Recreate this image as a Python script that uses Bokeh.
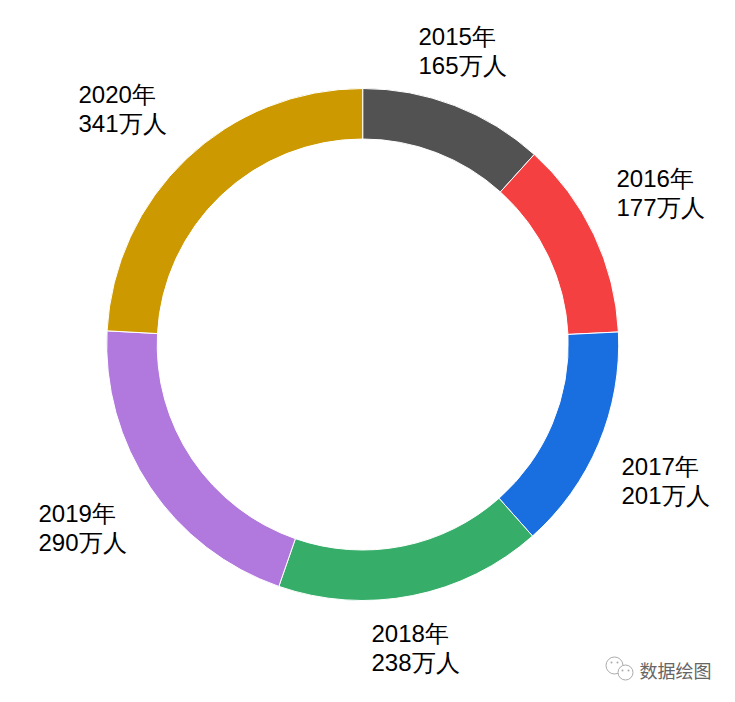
import math
from bokeh.plotting import figure
from bokeh.models import ColumnDataSource, Range1d
from bokeh.core.properties import value
from bokeh.embed import file_html
from bokeh.resources import INLINE

years = ["2015年", "2016年", "2017年", "2018年", "2019年", "2020年"]
people = [165, 177, 201, 238, 290, 341]
colors = ["#525252", "#F44040", "#1A6FE0", "#36AE6A", "#B178DE", "#CC9900"]

W, H = 719, 686
# layout: left edge / first line centre of every label, in page pixels
label_left = [418, 616, 621, 371, 38, 78]
label_top = [36, 178, 466, 633, 513, 94]

p = figure(width=W, height=H, output_backend="svg", toolbar_location=None,
           x_range=Range1d(0, W), y_range=Range1d(H, 0))
p.axis.visible = False
p.grid.visible = False
p.outline_line_color = None
p.min_border = 0
p.min_border_left = p.min_border_right = p.min_border_top = p.min_border_bottom = 0
p.background_fill_color = "white"

total = sum(people)
start, end = [], []
a = math.pi / 2
for v in people:
    start.append(a)
    a -= 2 * math.pi * v / total
    end.append(a)

src = ColumnDataSource(dict(s=start, e=end, c=colors))
p.annular_wedge(x=362.2, y=344, inner_radius=205.5, outer_radius=256,
                start_angle="s", end_angle="e", direction="clock",
                fill_color="c", line_color="white", line_width=1, source=src)

t1 = ColumnDataSource(dict(x=label_left, y=label_top, t=years))
t2 = ColumnDataSource(dict(x=label_left, y=[v + 29 for v in label_top],
                           t=[f"{v}万人" for v in people]))
for s in (t1, t2):
    p.text(x="x", y="y", text="t", source=s, text_font=value("Liberation Sans"),
           text_font_size="18pt", text_color="black", text_align="left",
           text_baseline="middle")

# watermark
p.text(x=[639], y=[669], text=["数据绘图"], text_font=value("Noto Sans CJK SC"),
       text_font_size="13.5pt", text_color="#666666", text_align="left",
       text_baseline="middle")
p.scatter(x=[614], y=[665], size=17, marker="circle", fill_color="white",
          line_color="#aaaaaa", line_width=1)
p.scatter(x=[625], y=[672], size=15, marker="circle", fill_color="white",
          line_color="#aaaaaa", line_width=1)
p.scatter(x=[611, 617, 622, 628], y=[662, 662, 670, 670], size=2, marker="circle",
          fill_color="#aaaaaa", line_color=None)

open("out.html", "w").write(file_html(p, INLINE))
